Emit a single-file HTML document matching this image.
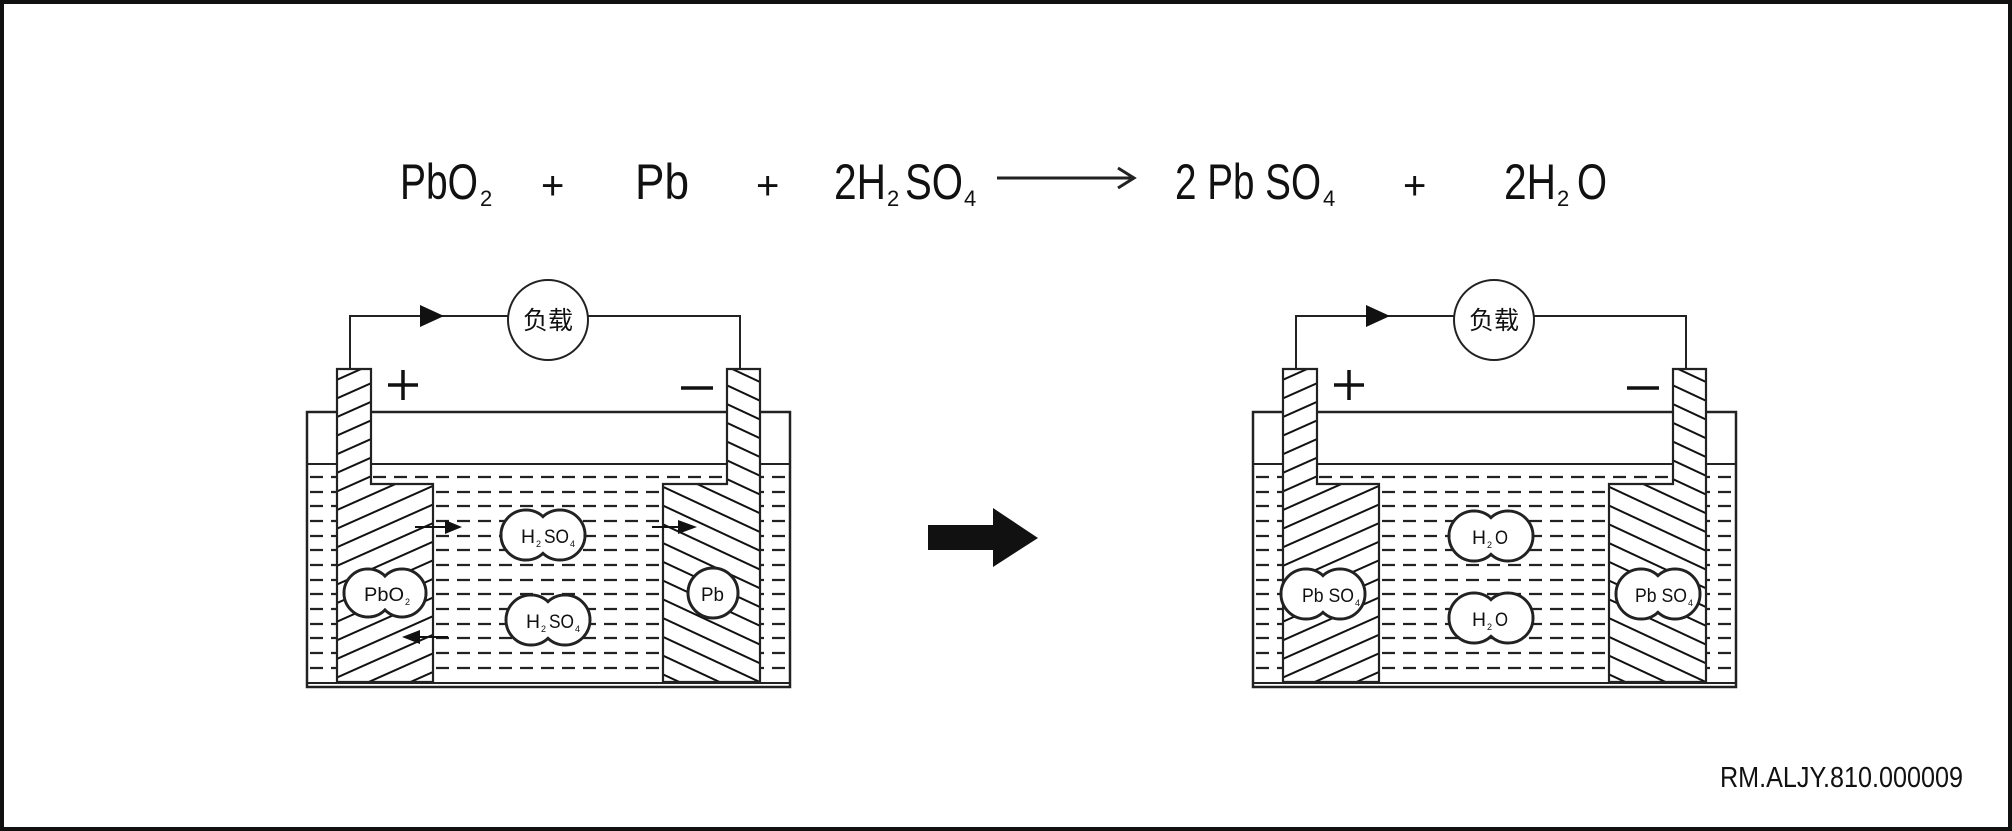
<!DOCTYPE html>
<html><head><meta charset="utf-8"><style>
html,body{margin:0;padding:0;background:#fff;}
svg{display:block;}
text{font-family:"Liberation Sans","Noto Sans CJK SC",sans-serif;fill:#111;}
</style></head><body>
<svg width="2012" height="831" viewBox="0 0 2012 831" xmlns="http://www.w3.org/2000/svg">
<defs>
<pattern id="hl" patternUnits="userSpaceOnUse" width="20" height="17" patternTransform="rotate(-24)">
<line x1="0" y1="8" x2="20" y2="8" stroke="#111" stroke-width="2"/>
</pattern>
<pattern id="hr" patternUnits="userSpaceOnUse" width="20" height="17" patternTransform="rotate(25)">
<line x1="0" y1="8" x2="20" y2="8" stroke="#111" stroke-width="2"/>
</pattern>
<g id="batt">
  <polyline points="350,369 350,316 740,316 740,369" fill="none" stroke="#222" stroke-width="2"/>
  <polygon points="420,305 444,316 420,327" fill="#111"/>
  <rect x="307" y="412" width="483" height="275" fill="#fff" stroke="#222" stroke-width="2.5"/>
  <line x1="307" y1="464" x2="790" y2="464" stroke="#222" stroke-width="2"/>
  <line x1="307" y1="683" x2="790" y2="683" stroke="#222" stroke-width="2"/>
  <g stroke="#222" stroke-width="2.2" stroke-dasharray="13 8">
    <line x1="310" y1="477" x2="788" y2="477"/>
    <line x1="310" y1="492" x2="788" y2="492"/>
    <line x1="310" y1="506" x2="788" y2="506"/>
    <line x1="310" y1="521" x2="788" y2="521"/>
    <line x1="310" y1="536" x2="788" y2="536"/>
    <line x1="310" y1="550" x2="788" y2="550"/>
    <line x1="310" y1="565" x2="788" y2="565"/>
    <line x1="310" y1="580" x2="788" y2="580"/>
    <line x1="310" y1="594" x2="788" y2="594"/>
    <line x1="310" y1="609" x2="788" y2="609"/>
    <line x1="310" y1="624" x2="788" y2="624"/>
    <line x1="310" y1="638" x2="788" y2="638"/>
    <line x1="310" y1="653" x2="788" y2="653"/>
    <line x1="310" y1="668" x2="788" y2="668"/>
  </g>
  <polygon points="337,369 371,369 371,484 433,484 433,682 337,682" fill="#fff"/>
  <polygon points="337,369 371,369 371,484 433,484 433,682 337,682" fill="url(#hl)" stroke="#222" stroke-width="2.2"/>
  <polygon points="727,369 760,369 760,682 663,682 663,484 727,484" fill="#fff"/>
  <polygon points="727,369 760,369 760,682 663,682 663,484 727,484" fill="url(#hr)" stroke="#222" stroke-width="2.2"/>
  <circle cx="548" cy="320" r="40" fill="#fff" stroke="#222" stroke-width="2"/>
  <text x="548" y="329" font-size="25" text-anchor="middle">负载</text>
  <line x1="388" y1="385" x2="418" y2="385" stroke="#111" stroke-width="3.5"/>
  <line x1="403" y1="370" x2="403" y2="400" stroke="#111" stroke-width="3.5"/>
  <line x1="681" y1="388" x2="713" y2="388" stroke="#111" stroke-width="3.5"/>
</g>
</defs>

<rect x="2" y="2" width="2008" height="827" fill="#fff" stroke="#111" stroke-width="4"/>

<g font-size="50">
  <text x="400" y="199" textLength="78" lengthAdjust="spacingAndGlyphs">PbO</text>
  <text x="480" y="206" font-size="22">2</text>
  <text x="541" y="199" font-size="40">+</text>
  <text x="635" y="199" textLength="54" lengthAdjust="spacingAndGlyphs">Pb</text>
  <text x="756" y="199" font-size="40">+</text>
  <text x="834" y="199" textLength="52" lengthAdjust="spacingAndGlyphs">2H</text>
  <text x="887" y="206" font-size="22">2</text>
  <text x="905" y="199" textLength="58" lengthAdjust="spacingAndGlyphs">SO</text>
  <text x="964" y="206" font-size="22">4</text>
  <text x="1175" y="199" textLength="146" lengthAdjust="spacingAndGlyphs">2 Pb SO</text>
  <text x="1323" y="206" font-size="22">4</text>
  <text x="1403" y="199" font-size="40">+</text>
  <text x="1504" y="199" textLength="52" lengthAdjust="spacingAndGlyphs">2H</text>
  <text x="1557" y="206" font-size="22">2</text>
  <text x="1577" y="199" textLength="30" lengthAdjust="spacingAndGlyphs">O</text>
</g>
<line x1="997" y1="178" x2="1132" y2="178" stroke="#222" stroke-width="3"/>
<polyline points="1118,168 1134,178 1118,188" fill="none" stroke="#222" stroke-width="3"/>

<use href="#batt"/>
<line x1="415" y1="527" x2="448" y2="527" stroke="#111" stroke-width="2"/>
<polygon points="445,520 462,527 445,534" fill="#111"/>
<line x1="420" y1="637" x2="448" y2="637" stroke="#111" stroke-width="2"/>
<polygon points="420,630 402,637 420,644" fill="#111"/>
<line x1="652" y1="527" x2="680" y2="527" stroke="#111" stroke-width="2"/>
<polygon points="678,520 697,527 678,534" fill="#111"/>

<use href="#batt" transform="translate(946,0)"/>

<g stroke="#222" stroke-width="3" fill="#fff">
  <circle cx="526" cy="535" r="25"/><circle cx="560" cy="535" r="25"/>
  <circle cx="531" cy="620" r="25"/><circle cx="565" cy="620" r="25"/>
  <circle cx="368" cy="593" r="24"/><circle cx="402" cy="593" r="24"/>
  <circle cx="713" cy="593" r="25"/>
  <circle cx="1474" cy="536" r="25"/><circle cx="1508" cy="536" r="25"/>
  <circle cx="1474" cy="618" r="25"/><circle cx="1508" cy="618" r="25"/>
  <circle cx="1306" cy="594" r="25"/><circle cx="1340" cy="594" r="25"/>
  <circle cx="1641" cy="594" r="25"/><circle cx="1675" cy="594" r="25"/>
</g>
<g fill="#fff">
  <circle cx="526" cy="535" r="23.5"/><circle cx="560" cy="535" r="23.5"/>
  <circle cx="531" cy="620" r="23.5"/><circle cx="565" cy="620" r="23.5"/>
  <circle cx="368" cy="593" r="22.5"/><circle cx="402" cy="593" r="22.5"/>
  <circle cx="1474" cy="536" r="23.5"/><circle cx="1508" cy="536" r="23.5"/>
  <circle cx="1474" cy="618" r="23.5"/><circle cx="1508" cy="618" r="23.5"/>
  <circle cx="1306" cy="594" r="23.5"/><circle cx="1340" cy="594" r="23.5"/>
  <circle cx="1641" cy="594" r="23.5"/><circle cx="1675" cy="594" r="23.5"/>
</g>
<g font-size="19">
  <text x="521" y="543" textLength="14" lengthAdjust="spacingAndGlyphs">H</text><text x="536" y="547" font-size="9">2</text>
  <text x="544" y="543" textLength="25" lengthAdjust="spacingAndGlyphs">SO</text><text x="570" y="547" font-size="9">4</text>
  <text x="526" y="628" textLength="14" lengthAdjust="spacingAndGlyphs">H</text><text x="541" y="632" font-size="9">2</text>
  <text x="549" y="628" textLength="25" lengthAdjust="spacingAndGlyphs">SO</text><text x="575" y="632" font-size="9">4</text>
  <text x="364" y="601" textLength="40" lengthAdjust="spacingAndGlyphs">PbO</text><text x="405" y="605" font-size="9">2</text>
  <text x="701" y="601" textLength="23" lengthAdjust="spacingAndGlyphs">Pb</text>
  <text x="1472" y="544" textLength="14" lengthAdjust="spacingAndGlyphs">H</text><text x="1487" y="548" font-size="9">2</text>
  <text x="1495" y="544" textLength="13" lengthAdjust="spacingAndGlyphs">O</text>
  <text x="1472" y="626" textLength="14" lengthAdjust="spacingAndGlyphs">H</text><text x="1487" y="630" font-size="9">2</text>
  <text x="1495" y="626" textLength="13" lengthAdjust="spacingAndGlyphs">O</text>
  <text x="1302" y="602" textLength="52" lengthAdjust="spacingAndGlyphs">Pb SO</text><text x="1355" y="606" font-size="9">4</text>
  <text x="1635" y="602" textLength="52" lengthAdjust="spacingAndGlyphs">Pb SO</text><text x="1688" y="606" font-size="9">4</text>
</g>

<polygon points="928,525 993,525 993,508 1038,538 993,567 993,550 928,550" fill="#111"/>

<text x="1720" y="787" font-size="29" textLength="243" lengthAdjust="spacingAndGlyphs">RM.ALJY.810.000009</text>
</svg>
</body></html>
